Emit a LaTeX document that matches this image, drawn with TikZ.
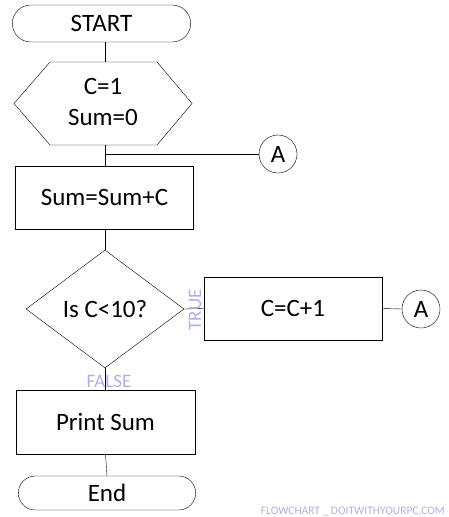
\documentclass[tikz,border=0pt]{standalone}
\usepackage{fontspec}
\setmainfont{Carlito}
\usetikzlibrary{shapes.geometric,shapes.misc}

\definecolor{faint}{RGB}{180,174,222}

\tikzset{
  terminal/.style={draw, thin, rounded rectangle, minimum width=185pt, minimum height=37pt, font=\fontsize{25}{28}\selectfont},
  process/.style={draw, thin, rectangle, minimum width=178pt, minimum height=63pt, font=\fontsize{25}{28}\selectfont},
  decision/.style={draw, thin, diamond, minimum width=158pt, minimum height=118pt, inner sep=0pt, font=\fontsize{25}{28}\selectfont},
  connector/.style={draw, thin, circle, minimum size=38pt, inner sep=0pt, font=\fontsize{25}{28}\selectfont},
  tag/.style={text=faint, font=\fontsize{19}{22}\selectfont, inner sep=0pt}
}

\begin{document}
\begin{tikzpicture}[x=1pt,y=-1pt]

\useasboundingbox (0,0) rectangle (448,517);

% Define the hexagon corners
\coordinate (H1) at (14,103.5);
\coordinate (H2) at (50,62);
\coordinate (H3) at (157,62);
\coordinate (H4) at (192,103.5);
\coordinate (H5) at (157,145);
\coordinate (H6) at (50,145);
\coordinate (hexbot) at (105,145);
\coordinate (split) at (105,154);

% Draw the blocks
\node[terminal] (start) at (101.5,23.5) {START};
\draw[thin] (H1) -- (H2) -- (H3) -- (H4) -- (H5) -- (H6) -- cycle;
\node[align=center, font=\fontsize{25}{31}\selectfont] (init) at (103,102) {C=1\\Sum=0};
\node[process] (add) at (104.5,197.5) {Sum=Sum+C};
\node[decision] (test) at (105,309) {Is C<10?};
\node[process] (incr) at (293,308.5) {C=C+1};
\node[process, minimum width=179pt, minimum height=64pt] (print) at (105.5,422) {Print Sum};
\node[terminal, minimum width=184pt, minimum height=34pt] (stop) at (107,493) {End};

% Draw the connectors A
\node[connector] (joinA) at (278,154) {A};
\node[connector] (gotoA) at (421,309) {A};

% Draw the lines
\draw[thin] (start.south -| hexbot) -- (H2 -| hexbot);
\draw[thin] (hexbot) -- (add.north -| hexbot);
\draw[thin] (split) -- (joinA.west);
\draw[thin] (add.south -| test.north) -- (test.north);
\draw[thin] (test.east) -- (incr.west);
\draw[thin] (incr.east) -- (gotoA.west);
\draw[thin] (test.south) -- (print.north -| test.south);
\draw[thin] (print.south) -- (stop.north);

% Label the branches
\node[tag, rotate=90] (yes) at (195,310) {TRUE};
\node[tag] (no) at (109,381) {FALSE};

% Label the source
\node[text=faint, font=\fontsize{11.5}{13}\selectfont, anchor=east, inner sep=0pt] (mark) at (445,512) {FLOWCHART \_ DOITWITHYOURPC.COM};

\end{tikzpicture}
\end{document}
